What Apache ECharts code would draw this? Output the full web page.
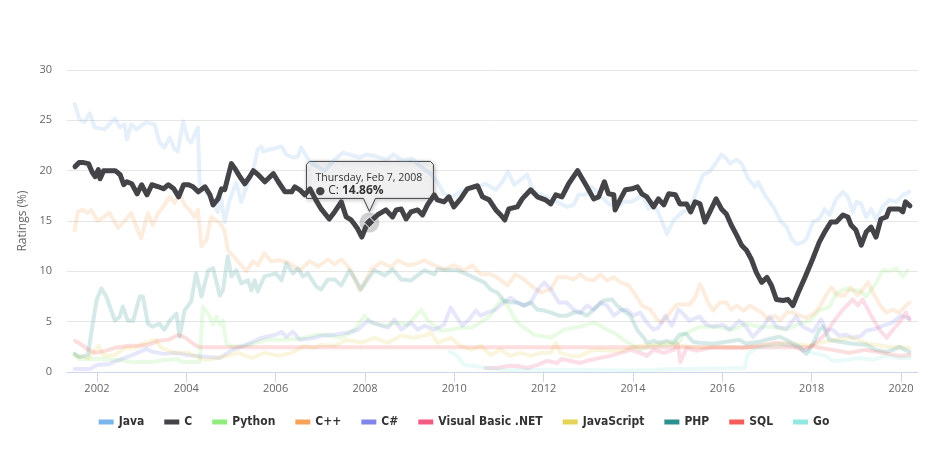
<!DOCTYPE html>
<html><head><meta charset="utf-8">
<script src="https://cdn.jsdelivr.net/npm/echarts@6/dist/echarts.min.js"></script>
<style>html,body{margin:0;padding:0;background:#fff}#chart{width:928px;height:450px}</style>
</head><body><div id="chart"></div>
<script>
// ---- data (x = decimal year, y = rating %) ----
const seriesNames = ['Java','C','Python','C++','C#','Visual Basic .NET','JavaScript','PHP','SQL','Go'];
const seriesColors = ['#7cb5ec','#434348','#90ed7d','#f7a35c','#8085e9','#f15c80','#e4d354','#2b908f','#f45b5b','#91e8e1'];
const xTickYears = [2002,2004,2006,2008,2010,2012,2014,2016,2018,2020];
const yTicks = [0,5,10,15,20,25,30];

const javaData = [[2001.5,26.6],[2001.61,25.1],[2001.72,24.8],[2001.84,25.7],[2001.95,24.3],[2002.17,24.1],[2002.4,25.2],[2002.51,24.3],[2002.62,24.6],[2002.67,23.1],[2002.77,24.6],[2002.88,24.1],[2003.1,24.8],[2003.29,24.6],[2003.4,22.8],[2003.51,22.3],[2003.63,23.3],[2003.74,22.1],[2003.81,21.9],[2003.93,24.9],[2004.04,23.1],[2004.11,22.8],[2004.26,24.3],[2004.3,18.8],[2004.41,18.1],[2004.6,16.8],[2004.71,15.9],[2004.78,17.3],[2004.86,14.9],[2004.97,17.1],[2005.12,18.8],[2005.23,16.9],[2005.38,18.8],[2005.49,19.9],[2005.6,22.1],[2005.68,22.4],[2005.72,21.9],[2005.87,22.1],[2006.13,22.4],[2006.24,21.6],[2006.39,21.3],[2006.5,21.4],[2006.57,22.3],[2006.69,21.4],[2006.76,20.9],[2006.9,20.5],[2007.1,20.0],[2007.3,21.0],[2007.51,21.8],[2007.66,21.6],[2007.88,21.3],[2008.03,21.6],[2008.26,21.4],[2008.48,21.1],[2008.63,21.6],[2008.85,21.0],[2009.05,21.2],[2009.25,20.4],[2009.47,19.7],[2009.62,18.9],[2009.77,17.7],[2009.9,17.4],[2010.0,17.5],[2010.14,17.9],[2010.29,18.2],[2010.52,18.4],[2010.7,18.7],[2010.81,18.4],[2010.93,18.1],[2011.08,18.9],[2011.2,19.9],[2011.34,18.6],[2011.49,19.1],[2011.63,19.6],[2011.78,17.9],[2011.93,17.6],[2012.16,17.2],[2012.38,16.7],[2012.52,16.4],[2012.67,16.6],[2012.78,17.6],[2012.93,17.6],[2013.08,18.4],[2013.23,17.7],[2013.34,17.2],[2013.49,16.6],[2013.64,16.4],[2013.79,16.9],[2013.94,16.9],[2014.09,17.2],[2014.2,17.6],[2014.35,16.2],[2014.46,16.9],[2014.61,15.4],[2014.76,13.7],[2014.91,15.1],[2015.06,15.7],[2015.12,15.9],[2015.27,16.2],[2015.42,17.9],[2015.57,19.6],[2015.72,19.9],[2015.83,20.6],[2015.98,21.6],[2016.09,21.2],[2016.17,20.7],[2016.32,21.1],[2016.43,20.7],[2016.58,19.2],[2016.73,18.4],[2016.8,18.9],[2016.95,17.6],[2017.14,16.4],[2017.32,14.9],[2017.44,14.4],[2017.55,13.2],[2017.66,12.7],[2017.81,12.9],[2017.88,13.2],[2018.03,14.9],[2018.17,15.2],[2018.29,16.2],[2018.4,15.6],[2018.55,17.2],[2018.7,17.9],[2018.81,17.4],[2018.92,15.9],[2019.0,16.9],[2019.11,16.7],[2019.22,15.4],[2019.33,16.2],[2019.44,15.2],[2019.59,16.4],[2019.74,17.1],[2019.89,16.9],[2020.04,17.6],[2020.19,17.9]];

const cData = [[2001.51,20.4],[2001.6,20.8],[2001.7,20.8],[2001.81,20.7],[2001.9,19.8],[2001.96,19.4],[2002.03,20.1],[2002.07,19.2],[2002.15,20.0],[2002.3,20.0],[2002.41,20.0],[2002.52,19.6],[2002.6,18.6],[2002.67,18.9],[2002.78,18.7],[2002.9,17.7],[2003.0,18.6],[2003.12,17.6],[2003.23,18.6],[2003.38,18.4],[2003.49,18.2],[2003.6,18.6],[2003.72,18.2],[2003.83,17.4],[2003.94,18.6],[2004.05,18.6],[2004.15,18.4],[2004.27,17.9],[2004.42,18.4],[2004.53,17.6],[2004.6,16.6],[2004.71,17.2],[2004.79,18.2],[2004.86,18.1],[2005.01,20.7],[2005.09,20.2],[2005.2,19.4],[2005.31,18.7],[2005.42,19.4],[2005.5,20.0],[2005.61,19.6],[2005.76,18.9],[2005.95,19.7],[2006.06,18.9],[2006.21,17.9],[2006.36,17.9],[2006.43,18.4],[2006.54,18.1],[2006.65,17.6],[2006.77,18.2],[2006.9,17.1],[2007.02,16.2],[2007.2,15.2],[2007.32,15.9],[2007.47,16.9],[2007.58,15.4],[2007.69,15.1],[2007.76,14.7],[2007.84,14.2],[2007.93,13.4],[2008.02,14.4],[2008.1,14.86],[2008.28,15.6],[2008.47,16.1],[2008.62,15.4],[2008.7,16.1],[2008.81,16.2],[2008.92,15.2],[2009.03,15.9],[2009.18,16.1],[2009.29,15.6],[2009.4,16.6],[2009.55,17.6],[2009.62,17.1],[2009.77,16.9],[2009.88,17.4],[2009.99,16.4],[2010.14,17.2],[2010.29,18.2],[2010.52,18.5],[2010.63,17.4],[2010.78,17.1],[2010.93,16.1],[2011.04,15.6],[2011.13,15.1],[2011.22,16.2],[2011.41,16.4],[2011.52,17.2],[2011.71,18.1],[2011.86,17.4],[2012.04,17.1],[2012.16,16.7],[2012.27,17.6],[2012.41,17.4],[2012.56,18.7],[2012.76,20.0],[2012.97,18.4],[2013.12,17.2],[2013.23,17.4],[2013.36,18.9],[2013.45,17.7],[2013.57,17.6],[2013.6,16.1],[2013.72,17.2],[2013.83,18.1],[2013.98,18.2],[2014.1,18.4],[2014.2,17.7],[2014.31,17.4],[2014.46,16.4],[2014.57,17.2],[2014.69,16.6],[2014.8,17.7],[2014.95,17.6],[2015.05,16.7],[2015.2,16.7],[2015.29,15.9],[2015.39,16.9],[2015.5,16.7],[2015.61,14.9],[2015.72,15.9],[2015.86,17.2],[2015.98,16.2],[2016.09,15.7],[2016.2,14.6],[2016.32,13.6],[2016.43,12.6],[2016.54,12.1],[2016.65,11.2],[2016.76,9.9],[2016.88,8.9],[2017.0,9.4],[2017.1,8.6],[2017.21,7.2],[2017.36,7.1],[2017.47,7.2],[2017.58,6.6],[2017.7,7.9],[2017.85,9.4],[2018.02,11.2],[2018.17,12.9],[2018.29,13.9],[2018.43,14.9],[2018.55,14.9],[2018.7,15.6],[2018.81,15.4],[2018.88,14.6],[2018.99,14.1],[2019.11,12.6],[2019.22,13.9],[2019.33,14.4],[2019.44,13.4],[2019.55,15.2],[2019.67,15.4],[2019.74,16.2],[2019.85,16.2],[2019.96,16.2],[2020.04,15.9],[2020.1,16.9],[2020.2,16.5]];

const pythonData = [[2001.5,1.8],[2001.61,1.3],[2002.06,1.3],[2002.5,1.2],[2002.8,1.0],[2003.2,1.0],[2003.55,1.2],[2003.81,1.3],[2003.89,1.0],[2004.15,1.0],[2004.3,1.0],[2004.37,6.5],[2004.49,5.8],[2004.6,4.7],[2004.67,5.5],[2004.75,4.7],[2004.82,5.1],[2004.9,2.8],[2005.04,2.5],[2005.42,2.7],[2005.79,3.2],[2006.16,3.2],[2006.54,3.3],[2006.91,3.7],[2007.1,3.7],[2007.47,3.4],[2007.76,4.2],[2007.99,5.6],[2008.14,4.9],[2008.44,4.6],[2008.73,4.9],[2008.96,4.7],[2009.26,6.2],[2009.4,5.2],[2009.55,4.6],[2009.7,4.1],[2009.92,4.2],[2010.14,4.4],[2010.37,4.4],[2010.59,4.9],[2010.81,5.6],[2010.96,6.7],[2011.07,7.2],[2011.19,6.6],[2011.34,5.4],[2011.49,4.6],[2011.63,4.2],[2011.78,3.7],[2011.93,3.6],[2012.16,3.4],[2012.34,3.9],[2012.45,4.2],[2012.67,4.4],[2012.9,4.6],[2013.12,4.9],[2013.27,4.6],[2013.42,4.2],[2013.57,3.9],[2013.79,3.2],[2014.01,2.6],[2014.16,2.2],[2014.39,2.6],[2014.61,2.6],[2014.83,2.7],[2015.05,3.1],[2015.12,3.7],[2015.49,4.5],[2015.86,4.5],[2016.24,4.2],[2016.53,4.8],[2016.83,4.5],[2017.13,4.5],[2017.43,4.2],[2017.73,4.8],[2017.95,5.1],[2018.17,6.1],[2018.4,6.5],[2018.55,7.8],[2018.77,8.3],[2018.92,8.1],[2019.07,8.1],[2019.22,7.5],[2019.44,8.8],[2019.59,10.1],[2019.74,10.0],[2019.89,10.3],[2020.04,9.5],[2020.15,10.1]];

const cppData = [[2001.5,14.1],[2001.57,15.9],[2001.68,16.1],[2001.79,15.8],[2001.87,16.1],[2002.02,15.0],[2002.28,15.8],[2002.47,14.3],[2002.62,15.0],[2002.77,15.8],[2002.92,14.0],[2002.99,13.3],[2003.14,15.8],[2003.25,14.6],[2003.37,15.8],[2003.48,16.4],[2003.63,17.4],[2003.74,16.8],[2003.85,17.8],[2003.96,16.6],[2004.07,16.1],[2004.19,15.4],[2004.26,16.1],[2004.34,12.5],[2004.45,13.1],[2004.56,15.4],[2004.75,14.8],[2004.86,14.0],[2004.93,12.1],[2005.04,11.6],[2005.19,10.8],[2005.34,10.0],[2005.49,11.0],[2005.6,10.6],[2005.75,11.8],[2005.9,11.0],[2006.09,11.1],[2006.31,10.8],[2006.54,10.1],[2006.76,11.0],[2006.95,10.5],[2007.17,11.2],[2007.32,10.7],[2007.47,11.2],[2007.69,10.1],[2007.88,8.1],[2007.99,8.9],[2008.14,10.2],[2008.36,10.9],[2008.58,10.4],[2008.73,11.1],[2008.96,10.6],[2009.11,10.7],[2009.33,11.1],[2009.55,10.6],[2009.77,10.2],[2009.99,10.6],[2010.22,10.1],[2010.4,10.6],[2010.59,9.7],[2010.81,9.7],[2010.96,9.4],[2011.19,8.6],[2011.37,9.7],[2011.56,9.2],[2011.71,8.6],[2011.93,7.9],[2012.16,8.2],[2012.31,9.4],[2012.52,9.4],[2012.67,9.2],[2012.82,9.7],[2012.97,9.2],[2013.12,9.1],[2013.27,9.7],[2013.42,9.1],[2013.57,9.4],[2013.72,8.9],[2013.9,8.6],[2014.05,7.7],[2014.2,6.6],[2014.39,6.2],[2014.54,5.2],[2014.65,4.9],[2014.83,5.9],[2014.98,6.7],[2015.12,6.7],[2015.27,6.7],[2015.39,7.4],[2015.5,8.7],[2015.57,8.1],[2015.68,6.9],[2015.8,6.1],[2015.94,6.9],[2016.09,6.9],[2016.2,6.2],[2016.32,6.6],[2016.47,6.1],[2016.62,6.6],[2016.76,6.2],[2016.88,5.9],[2017.03,5.2],[2017.18,5.6],[2017.29,5.1],[2017.44,5.9],[2017.58,5.9],[2017.73,5.6],[2017.88,5.4],[2018.02,5.7],[2018.17,6.4],[2018.32,7.6],[2018.44,8.4],[2018.58,7.6],[2018.73,7.6],[2018.88,8.4],[2019.03,7.6],[2019.14,8.2],[2019.26,8.9],[2019.37,7.9],[2019.52,6.7],[2019.67,5.9],[2019.81,6.2],[2019.96,5.9],[2020.11,6.6],[2020.19,6.9]];

const csharpData = [[2001.5,0.3],[2001.84,0.3],[2002.0,0.7],[2002.28,0.8],[2002.5,1.2],[2002.8,1.7],[2003.1,2.3],[2003.25,2.0],[2003.5,1.8],[2003.75,1.9],[2004.0,1.7],[2004.25,1.6],[2004.5,1.5],[2004.75,1.4],[2005.04,2.2],[2005.34,2.7],[2005.64,3.3],[2005.79,3.5],[2006.01,3.7],[2006.13,4.0],[2006.24,3.5],[2006.39,4.0],[2006.54,3.2],[2006.76,3.3],[2006.95,3.5],[2007.02,3.6],[2007.32,3.7],[2007.61,3.9],[2007.84,4.2],[2008.06,5.1],[2008.29,4.7],[2008.51,4.4],[2008.66,5.2],[2008.81,4.2],[2009.03,4.9],[2009.18,4.2],[2009.33,4.6],[2009.55,4.2],[2009.77,4.7],[2009.92,6.4],[2010.03,5.6],[2010.18,4.6],[2010.33,5.2],[2010.48,6.1],[2010.59,5.6],[2010.74,5.9],[2010.93,6.2],[2011.11,6.9],[2011.26,7.4],[2011.41,6.9],[2011.56,6.6],[2011.71,6.9],[2011.86,8.1],[2012.01,8.9],[2012.16,8.2],[2012.34,6.9],[2012.52,6.9],[2012.67,6.2],[2012.82,5.9],[2012.97,6.6],[2013.12,6.2],[2013.27,6.9],[2013.42,6.6],[2013.57,5.6],[2013.72,6.1],[2013.86,6.2],[2014.01,5.6],[2014.16,5.9],[2014.31,4.9],[2014.46,4.2],[2014.57,4.4],[2014.72,5.6],[2014.87,4.6],[2015.02,6.2],[2015.12,5.8],[2015.26,5.1],[2015.49,5.5],[2015.64,4.7],[2015.79,4.5],[2016.01,4.7],[2016.16,4.2],[2016.38,5.1],[2016.53,4.5],[2016.68,3.5],[2016.91,4.5],[2017.06,5.5],[2017.21,4.5],[2017.43,4.3],[2017.65,5.5],[2017.8,4.5],[2018.03,4.0],[2018.21,5.2],[2018.32,4.2],[2018.47,4.2],[2018.62,3.6],[2018.77,3.7],[2018.92,3.4],[2019.11,3.6],[2019.22,4.1],[2019.44,4.3],[2019.6,4.6],[2019.8,4.9],[2020.0,5.6],[2020.19,5.3]];

const vbnetData = [[2010.7,0.4],[2010.96,0.4],[2011.19,0.6],[2011.41,0.6],[2011.63,0.4],[2011.86,0.7],[2012.08,1.1],[2012.3,0.9],[2012.4,1.3],[2012.6,1.1],[2012.82,0.9],[2013.04,1.2],[2013.27,1.4],[2013.49,1.6],[2013.72,1.9],[2013.94,2.2],[2014.16,1.9],[2014.31,1.6],[2014.46,2.2],[2014.69,1.9],[2014.91,2.2],[2015.0,2.8],[2015.06,1.0],[2015.2,2.4],[2015.42,2.1],[2015.72,2.4],[2016.09,2.4],[2016.47,2.4],[2016.84,2.6],[2017.21,2.9],[2017.58,2.6],[2017.81,2.1],[2017.95,2.4],[2018.14,3.1],[2018.32,3.8],[2018.47,4.9],[2018.7,6.2],[2018.92,7.2],[2019.03,6.6],[2019.14,7.2],[2019.33,5.6],[2019.52,4.2],[2019.68,3.4],[2019.82,4.2],[2019.96,4.9],[2020.11,5.9],[2020.19,5.2]];

const jsData = [[2001.51,1.6],[2001.81,1.4],[2002.04,2.6],[2002.15,1.6],[2002.41,1.7],[2002.63,2.4],[2002.86,2.4],[2003.08,2.9],[2003.3,3.2],[2003.45,2.4],[2003.75,1.9],[2004.05,1.9],[2004.19,1.6],[2004.42,1.2],[2004.71,1.4],[2004.94,1.6],[2005.16,1.9],[2005.46,1.4],[2005.76,1.9],[2006.06,1.6],[2006.36,1.9],[2006.65,2.6],[2006.85,2.4],[2007.02,2.7],[2007.32,2.6],[2007.61,3.2],[2007.91,2.9],[2008.21,3.4],[2008.51,2.9],[2008.81,3.6],[2009.1,3.4],[2009.4,3.7],[2009.47,4.0],[2009.62,2.9],[2009.92,3.4],[2010.14,2.6],[2010.37,2.2],[2010.59,2.6],[2010.81,1.7],[2011.04,2.2],[2011.26,1.6],[2011.49,1.9],[2011.71,1.6],[2011.93,1.9],[2012.16,1.9],[2012.27,2.9],[2012.37,1.9],[2012.6,1.6],[2012.82,1.6],[2013.04,2.1],[2013.27,2.2],[2013.49,2.1],[2013.72,2.1],[2013.94,2.4],[2014.16,2.6],[2014.46,2.7],[2014.76,2.9],[2015.06,2.6],[2015.5,2.4],[2016.0,2.5],[2016.5,2.4],[2017.0,2.7],[2017.5,2.9],[2017.9,2.6],[2018.3,3.0],[2018.9,3.4],[2019.3,2.8],[2019.7,2.5],[2020.19,2.4]];

const phpData = [[2001.5,1.8],[2001.6,1.5],[2001.8,1.7],[2001.87,3.8],[2001.99,7.1],[2002.1,8.3],[2002.21,7.5],[2002.32,6.1],[2002.4,5.1],[2002.51,5.5],[2002.58,6.5],[2002.69,5.1],[2002.81,5.1],[2002.96,7.5],[2003.03,7.5],[2003.14,4.8],[2003.25,4.5],[2003.4,4.8],[2003.51,4.2],[2003.63,5.1],[2003.78,5.8],[2003.85,3.5],[2003.96,6.1],[2004.11,7.0],[2004.22,9.8],[2004.34,7.5],[2004.49,10.1],[2004.6,10.3],[2004.75,7.6],[2004.82,8.1],[2004.93,11.5],[2005.01,9.5],[2005.12,10.1],[2005.23,8.8],[2005.38,9.1],[2005.46,8.1],[2005.53,9.1],[2005.6,8.0],[2005.75,9.5],[2006.01,9.8],[2006.13,9.1],[2006.24,10.8],[2006.39,9.8],[2006.5,10.3],[2006.61,9.5],[2006.72,9.8],[2006.91,8.5],[2007.02,8.2],[2007.17,9.2],[2007.32,9.2],[2007.47,8.6],[2007.65,10.1],[2007.8,9.1],[2007.91,8.2],[2008.06,9.2],[2008.21,10.1],[2008.44,9.6],[2008.62,10.2],[2008.81,9.2],[2009.03,9.1],[2009.18,9.6],[2009.33,10.1],[2009.55,9.7],[2009.62,10.2],[2009.85,10.1],[2010.07,10.1],[2010.29,9.7],[2010.52,9.2],[2010.67,8.9],[2010.81,8.2],[2010.96,7.9],[2011.11,7.1],[2011.26,6.9],[2011.41,6.9],[2011.56,6.6],[2011.71,6.9],[2011.86,6.2],[2012.01,6.1],[2012.16,5.9],[2012.34,5.6],[2012.52,5.6],[2012.67,5.9],[2012.82,5.9],[2012.97,5.6],[2013.12,6.2],[2013.34,7.1],[2013.53,7.2],[2013.64,6.6],[2013.79,6.1],[2013.94,5.6],[2014.09,4.2],[2014.24,3.4],[2014.31,2.9],[2014.46,3.1],[2014.6,2.9],[2014.76,3.1],[2014.9,2.9],[2015.04,3.7],[2015.19,3.8],[2015.34,3.0],[2015.49,2.9],[2015.79,2.8],[2016.09,3.0],[2016.38,3.2],[2016.53,2.8],[2016.83,3.0],[2016.98,3.2],[2017.28,3.5],[2017.43,3.2],[2017.58,2.8],[2017.73,2.5],[2017.88,1.8],[2018.03,2.8],[2018.17,4.2],[2018.25,4.5],[2018.4,3.2],[2018.62,3.0],[2018.92,2.8],[2019.22,2.7],[2019.44,2.2],[2019.67,2.0],[2019.82,2.2],[2019.96,2.5],[2020.19,2.0]];

const sqlData = [[2001.51,3.1],[2001.66,2.7],[2001.81,2.2],[2001.96,1.9],[2002.19,2.1],[2002.41,2.4],[2002.71,2.6],[2002.93,2.6],[2003.15,2.7],[2003.38,3.1],[2003.6,3.2],[2003.83,3.7],[2003.98,3.4],[2004.1,3.0],[2004.23,2.6],[2004.3,2.45],[2017.9,2.45],[2018.02,2.6],[2018.17,2.4],[2018.47,2.2],[2018.84,1.9],[2019.2,2.2],[2019.59,1.9],[2019.96,1.6],[2020.19,1.7]];

const goData = [[2009.9,2.0],[2010.07,1.6],[2010.22,0.7],[2010.44,0.6],[2010.74,0.4],[2011.11,0.2],[2012.0,0.2],[2013.0,0.2],[2014.0,0.15],[2015.0,0.3],[2016.0,0.35],[2016.5,0.4],[2016.56,1.7],[2016.76,2.4],[2017.06,2.6],[2017.36,2.7],[2017.66,2.6],[2017.81,2.2],[2018.03,1.9],[2018.32,1.6],[2018.47,1.1],[2018.77,1.2],[2019.07,1.4],[2019.37,1.2],[2019.67,1.6],[2019.96,1.4],[2020.19,1.4]];

const hover = { seriesIndex: 1, x: 2008.1, y: 14.86, dateLabel: 'Thursday, Feb 7, 2008', valueLabel: '14.86%' };

// ---- chart ----
const allData = [javaData, cData, pythonData, cppData, csharpData, vbnetData, jsData, phpData, sqlData, goData];
const chart = echarts.init(document.getElementById('chart'), null, { renderer: 'canvas' });
const baseFont = 'Open Sans, DejaVu Sans, sans-serif';

const series = seriesNames.map((name, i) => {
  const active = i === hover.seriesIndex;
  return {
    name, type: 'line', data: allData[i], showSymbol: false, symbol: 'none',
    silent: true, z: active ? 5 : 2,
    lineStyle: { color: seriesColors[i], width: active ? 5 : 4, opacity: active ? 1 : 0.2, join: 'round', cap: 'round' },
    itemStyle: { color: seriesColors[i] },
    emphasis: { disabled: true }
  };
});

chart.setOption({
  animation: false,
  backgroundColor: '#ffffff',
  grid: { left: 67, right: 10, top: 70, bottom: 78, containLabel: false },
  xAxis: {
    type: 'value', min: 2001.33, max: 2020.38,
    axisLine: { lineStyle: { color: '#ccd6eb', width: 1 } },
    axisTick: { show: true, length: 10, customValues: xTickYears, lineStyle: { color: '#ccd6eb' } },
    axisLabel: { customValues: xTickYears, formatter: v => String(v), color: '#666666', fontSize: 11, fontFamily: baseFont, margin: 11 },
    splitLine: { show: false }
  },
  yAxis: {
    type: 'value', min: yTicks[0], max: yTicks[yTicks.length - 1], interval: 5,
    name: 'Ratings (%)', nameLocation: 'middle', nameGap: 38,
    nameTextStyle: { color: '#666666', fontSize: 12, fontFamily: baseFont },
    axisLine: { show: false }, axisTick: { show: false },
    axisLabel: { color: '#666666', fontSize: 11, fontFamily: baseFont, margin: 15 },
    splitLine: { lineStyle: { color: '#e6e6e6', width: 1 } }
  },
  legend: {
    data: seriesNames, bottom: 17, left: 'center',
    icon: 'rect', itemWidth: 15, itemHeight: 5, itemGap: 20,
    itemStyle: { opacity: 1 },
    textStyle: { color: '#333333', fontSize: 12, fontWeight: 'bold', fontFamily: 'DejaVu Sans Condensed, DejaVu Sans, sans-serif' },
    selectedMode: false
  },
  series
});

// ---- hover marker + tooltip drawn as graphics, anchored via the chart's own scales ----
const pt = chart.convertToPixel({ xAxisIndex: 0, yAxisIndex: 0 }, [hover.x, hover.y]);
const boxW = 127, boxH = 37;
const boxX = pt[0] - 63, boxY = pt[1] - 24 - boxH;
const tipY = pt[1] - 11;
const hc = seriesColors[hover.seriesIndex];
chart.setOption({
  graphic: [
    { type: 'circle', z: 50, silent: true, shape: { cx: pt[0], cy: pt[1], r: 10 }, style: { fill: 'rgba(67,67,72,0.25)' } },
    { type: 'polygon', z: 51, silent: true, shape: { points: [[pt[0], pt[1] - 5.5], [pt[0] + 5.5, pt[1]], [pt[0], pt[1] + 5.5], [pt[0] - 5.5, pt[1]]] },
      style: { fill: hc, stroke: '#ffffff', lineWidth: 1 } },
    {
      type: 'group', z: 100, silent: true,
      children: [
        { type: 'polygon', shape: { points: [[boxX + 3, boxY], [boxX + boxW - 3, boxY], [boxX + boxW, boxY + 3], [boxX + boxW, boxY + boxH], [pt[0] + 6, boxY + boxH], [pt[0], tipY], [pt[0] - 6, boxY + boxH], [boxX, boxY + boxH], [boxX, boxY + 3]] },
          style: { fill: 'rgba(247,247,247,0.85)', stroke: hc, lineWidth: 1, shadowBlur: 4, shadowColor: 'rgba(0,0,0,0.25)', shadowOffsetX: 1, shadowOffsetY: 1 } },
        { type: 'text', x: boxX + 9, y: boxY + 11, style: { text: hover.dateLabel, fill: '#333333', font: '10.5px ' + baseFont, textVerticalAlign: 'top' } },
        { type: 'text', x: boxX + 9, y: boxY + 23, style: {
            text: '{d|●} C: {b|' + hover.valueLabel + '}',
            rich: {
              d: { fill: hc, fontSize: 11, fontFamily: baseFont },
              b: { fill: '#333333', fontSize: 12, fontWeight: 'bold', fontFamily: baseFont }
            },
            fill: '#333333', fontSize: 12, fontFamily: baseFont, textVerticalAlign: 'top' } }
      ]
    }
  ]
});
</script></body></html>
